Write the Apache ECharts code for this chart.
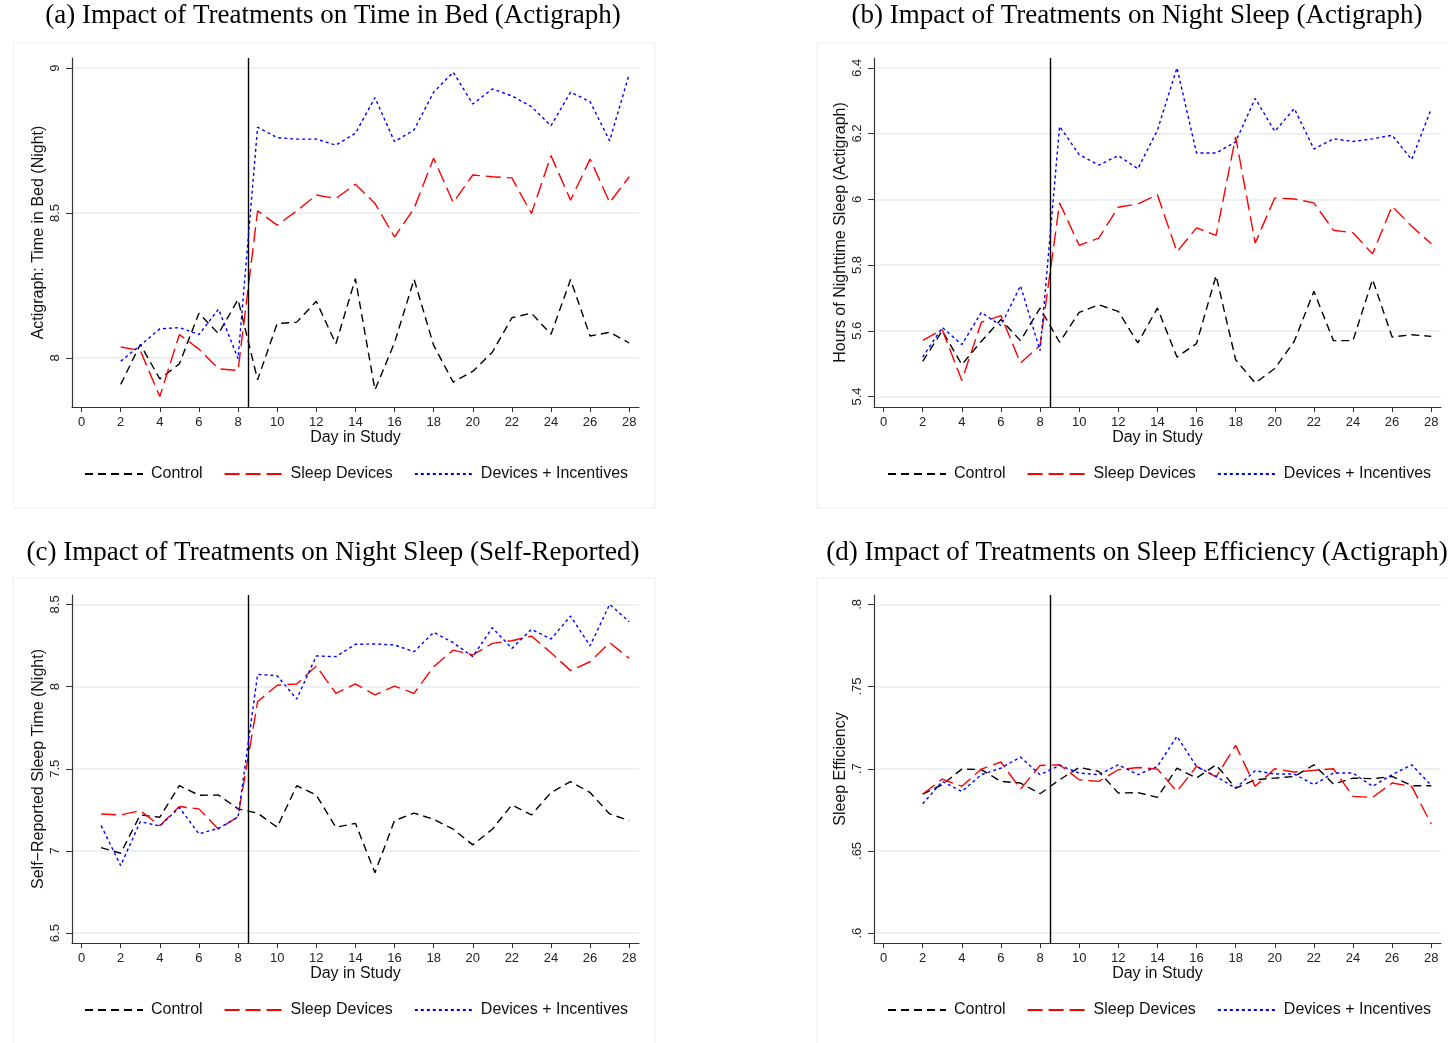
<!DOCTYPE html>
<html><head><meta charset="utf-8">
<script src="https://cdn.jsdelivr.net/npm/echarts@6/dist/echarts.min.js"></script>
<style>html,body{margin:0;padding:0;background:#fff}#c{width:1448px;height:1043px}</style>
</head><body><div id="c"></div>
<script>
// ---------- data ----------
const seriesNames = ['Control', 'Sleep Devices', 'Devices + Incentives'];
const daysFrom2 = [2,3,4,5,6,7,8,9,10,11,12,13,14,15,16,17,18,19,20,21,22,23,24,25,26,27,28];
const daysFrom1 = [1,2,3,4,5,6,7,8,9,10,11,12,13,14,15,16,17,18,19,20,21,22,23,24,25,26,27,28];
const xTicks = [0,2,4,6,8,10,12,14,16,18,20,22,24,26,28];
const treatmentStartDay = 8.5;

// (a) Time in Bed (Actigraph)
const bedControl = [7.908,8.046,7.927,7.979,8.154,8.083,8.201,7.924,8.118,8.123,8.195,8.048,8.273,7.889,8.052,8.271,8.043,7.916,7.953,8.019,8.138,8.154,8.081,8.270,8.075,8.088,8.051];
const bedDevices = [8.037,8.025,7.866,8.080,8.030,7.962,7.956,8.507,8.458,8.507,8.562,8.550,8.599,8.533,8.417,8.516,8.689,8.536,8.631,8.625,8.621,8.498,8.698,8.544,8.686,8.536,8.625];
const bedIncent  = [7.988,8.043,8.100,8.104,8.080,8.168,7.997,8.796,8.760,8.755,8.755,8.734,8.775,8.898,8.746,8.787,8.917,8.986,8.876,8.928,8.904,8.867,8.801,8.917,8.884,8.749,8.980];
const bedTicks = [8, 8.5, 9];

// (b) Night Sleep (Actigraph)
const actControl = [5.507,5.600,5.497,5.568,5.634,5.570,5.669,5.565,5.656,5.679,5.659,5.563,5.669,5.520,5.561,5.768,5.512,5.441,5.485,5.568,5.720,5.570,5.570,5.756,5.581,5.588,5.583];
const actDevices = [5.571,5.603,5.449,5.626,5.646,5.502,5.555,5.989,5.860,5.882,5.976,5.986,6.014,5.840,5.913,5.890,6.190,5.867,6.004,6.001,5.989,5.906,5.898,5.834,5.979,5.918,5.865];
const actIncent  = [5.520,5.610,5.558,5.656,5.616,5.737,5.539,6.222,6.136,6.104,6.133,6.093,6.210,6.400,6.141,6.141,6.175,6.307,6.207,6.276,6.153,6.184,6.176,6.184,6.195,6.121,6.275];
const actTicks = [5.4, 5.6, 5.8, 6, 6.2, 6.4];

// (c) Night Sleep (Self-Reported)
const selfControl = [7.020,6.986,7.219,7.205,7.397,7.339,7.340,7.256,7.230,7.144,7.397,7.340,7.144,7.168,6.868,7.185,7.230,7.193,7.132,7.037,7.132,7.280,7.219,7.355,7.422,7.355,7.225,7.185];
const selfDevices = [7.225,7.219,7.245,7.154,7.270,7.256,7.132,7.209,7.908,8.008,8.016,8.125,7.959,8.016,7.949,8.003,7.959,8.121,8.222,8.192,8.263,8.279,8.307,8.206,8.097,8.151,8.267,8.172];
const selfIncent  = [7.154,6.911,7.178,7.152,7.264,7.104,7.138,7.205,8.074,8.066,7.924,8.186,8.182,8.257,8.259,8.253,8.212,8.330,8.267,8.182,8.358,8.232,8.348,8.289,8.429,8.248,8.500,8.394];
const selfTicks = [6.5, 7, 7.5, 8, 8.5];

// (d) Sleep Efficiency (Actigraph)
const effControl = [0.6846,0.6903,0.6998,0.6995,0.6923,0.6913,0.6848,0.6933,0.7008,0.6984,0.6852,0.6855,0.6826,0.7004,0.6943,0.7024,0.6882,0.6933,0.6943,0.6953,0.7024,0.6907,0.6943,0.6940,0.6953,0.6897,0.6897];
const effDevices = [0.6846,0.6937,0.6893,0.6998,0.7041,0.6876,0.7020,0.7024,0.6933,0.6923,0.6994,0.7008,0.6998,0.6862,0.7014,0.6950,0.7142,0.6893,0.7000,0.6980,0.6990,0.7000,0.6832,0.6826,0.6913,0.6893,0.6664];
const effIncent  = [0.6787,0.6923,0.6862,0.6964,0.7004,0.7071,0.6964,0.7020,0.6974,0.6964,0.7024,0.6964,0.7014,0.7197,0.7014,0.6953,0.6882,0.6988,0.6968,0.6968,0.6903,0.6974,0.6974,0.6893,0.6964,0.7024,0.6899];
const effTicks = [0.6, 0.65, 0.7, 0.75, 0.8];

// ---------- panel definitions ----------
const panels = [
  { title: '(a) Impact of Treatments on Time in Bed (Actigraph)', yName: 'Actigraph: Time in Bed (Night)',
    days: daysFrom2, values: [bedControl, bedDevices, bedIncent], yTicks: bedTicks },
  { title: '(b) Impact of Treatments on Night Sleep (Actigraph)', yName: 'Hours of Nighttime Sleep (Actigraph)',
    days: daysFrom2, values: [actControl, actDevices, actIncent], yTicks: actTicks },
  { title: '(c) Impact of Treatments on Night Sleep (Self-Reported)', yName: 'Self\u2212Reported Sleep Time (Night)',
    days: daysFrom1, values: [selfControl, selfDevices, selfIncent], yTicks: selfTicks },
  { title: '(d) Impact of Treatments on Sleep Efficiency (Actigraph)', yName: 'Sleep Efficiency',
    days: daysFrom2, values: [effControl, effDevices, effIncent], yTicks: effTicks, stripZero: true }
];

// ---------- layout & style ----------
const layout = [
  { grid: {left: 72, top: 58, width: 567, height: 349}, yRange: [7.83, 9.035], titleX: 333, titleY: 16, legendLeft: 84, legendTop: 466, box: [13, 43, 642, 465] },
  { grid: {left: 874, top: 58, width: 567, height: 349}, yRange: [5.368, 6.43], titleX: 1137, titleY: 16, legendLeft: 887, legendTop: 466, box: [817, 43, 640, 465] },
  { grid: {left: 72, top: 595, width: 567, height: 348}, yRange: [6.44, 8.557], titleX: 333, titleY: 553, legendLeft: 84, legendTop: 1002, box: [13, 578, 642, 470] },
  { grid: {left: 874, top: 595, width: 567, height: 348}, yRange: [0.594, 0.8057], titleX: 1137, titleY: 553, legendLeft: 887, legendTop: 1002, box: [817, 578, 640, 470] }
];
const xRange = [-0.49, 28.5];
const colors = ['#000000', '#ff0000', '#0000ff'];
const dashes = [[8, 5], [15, 6], [3, 3]];
const sans = 'Liberation Sans, Arial, sans-serif';
const serif = 'Liberation Serif, Times New Roman, serif';
const gridColor = '#e6eef0';

const option = {
  backgroundColor: '#ffffff',
  animation: false,
  grid: [], xAxis: [], yAxis: [], series: [], legend: [], graphic: []
};

panels.forEach((p, i) => {
  const L = layout[i];
  option.graphic.push({
    type: 'rect', silent: true, z: -10,
    shape: {x: L.box[0], y: L.box[1], width: L.box[2], height: L.box[3]},
    style: {fill: '#ffffff', stroke: '#e8eff1', lineWidth: 1}
  });
  option.graphic.push({
    type: 'text', silent: true,
    x: L.titleX, y: L.titleY,
    style: {text: p.title, font: '27px ' + serif, fill: '#000', align: 'center', verticalAlign: 'middle'}
  });
  option.grid.push(Object.assign({containLabel: false}, L.grid));
  option.xAxis.push({
    type: 'value', gridIndex: i, min: xRange[0], max: xRange[1],
    name: 'Day in Study', nameLocation: 'middle', nameGap: 23,
    nameTextStyle: {fontFamily: sans, fontSize: 16, color: '#111'},
    axisLine: {show: true, onZero: false, lineStyle: {color: '#333', width: 1.2}},
    axisTick: {show: true, length: 5, customValues: xTicks, lineStyle: {color: '#333', width: 1}},
    axisLabel: {customValues: xTicks, fontFamily: sans, fontSize: 13, color: '#222', margin: 9},
    splitLine: {show: false}
  });
  option.yAxis.push({
    type: 'value', gridIndex: i, min: L.yRange[0], max: L.yRange[1],
    name: p.yName, nameLocation: 'middle', nameGap: 25, nameRotate: 90,
    nameTextStyle: {fontFamily: sans, fontSize: 16, color: '#111'},
    axisLine: {show: true, onZero: false, lineStyle: {color: '#333', width: 1.2}},
    axisTick: {show: true, length: 6, customValues: p.yTicks, lineStyle: {color: '#333', width: 1}},
    axisLabel: {customValues: p.yTicks, rotate: 90, fontFamily: sans, fontSize: 13, color: '#222', margin: 10,
      formatter: v => p.stripZero ? String(+v.toFixed(4)).replace(/^0\./, '.') : String(+v.toFixed(4))},
    splitLine: {show: true, lineStyle: {color: gridColor, width: 1.5}}
  });
  p.values.forEach((vals, k) => {
    const s = {
      type: 'line', name: seriesNames[k], xAxisIndex: i, yAxisIndex: i,
      data: p.days.map((d, j) => [d, vals[j]]),
      symbol: 'none', showSymbol: false, smooth: false,
      lineStyle: {color: colors[k], width: 1.4, type: dashes[k]},
      itemStyle: {color: colors[k]},
      z: 3 + k
    };
    if (k === 0) {
      s.markLine = {
        silent: true, symbol: ['none', 'none'], label: {show: false},
        lineStyle: {color: '#000', type: 'solid', width: 1.4},
        data: [{xAxis: treatmentStartDay}]
      };
    }
    option.series.push(s);
  });
  option.legend.push({
    left: L.legendLeft, top: L.legendTop, orient: 'horizontal', padding: 0,
    itemWidth: 58, itemHeight: 14, itemGap: 21,
    data: seriesNames, selectedMode: false,
    itemStyle: {opacity: 0},
    textStyle: {fontFamily: sans, fontSize: 16, color: '#111', padding: [0, 0, 0, 3]}
  });
});

const chart = echarts.init(document.getElementById('c'), null, {renderer: 'canvas'});
chart.setOption(option);
</script>
</body></html>
